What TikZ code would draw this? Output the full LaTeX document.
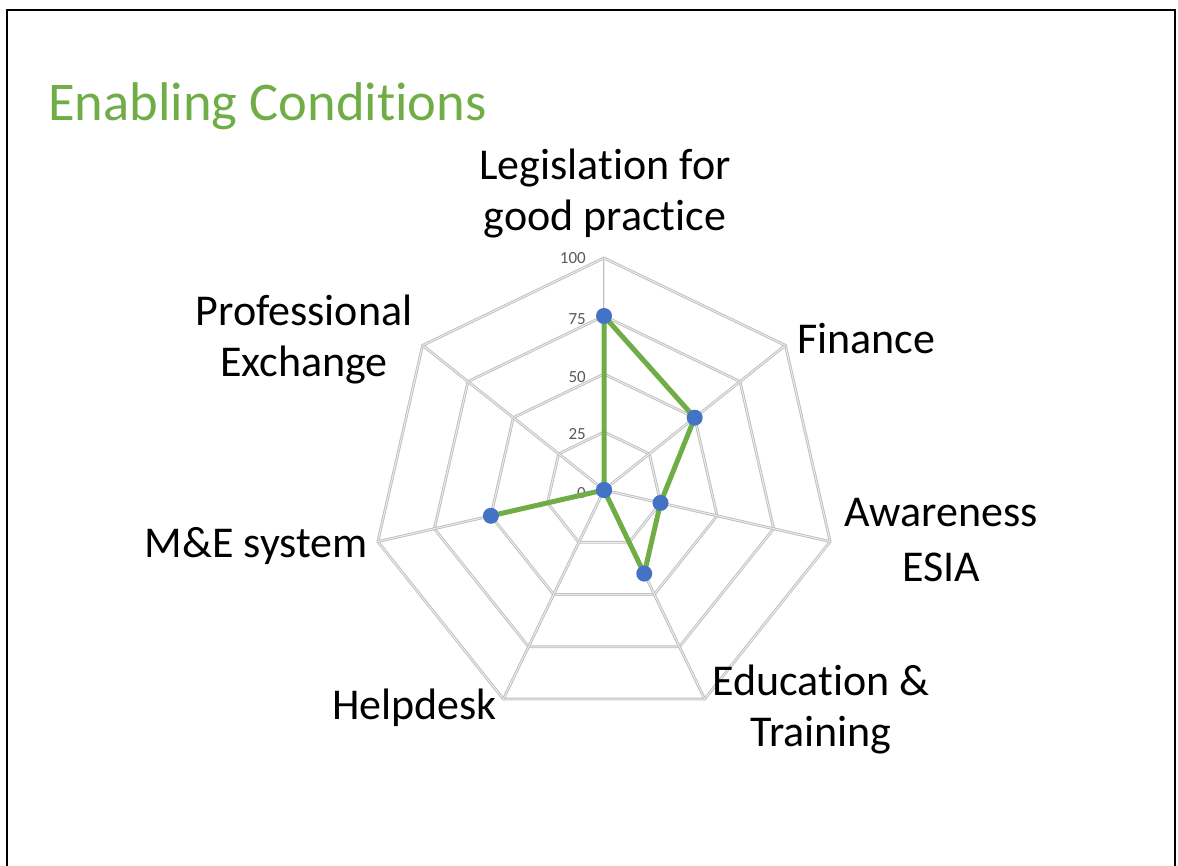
\documentclass[tikz,border=0pt]{standalone}
\usepackage{fontspec}
\setmainfont{Carlito}[Ligatures=NoCommon]
\usepackage{tikz, xcolor}
\definecolor{chartgreen}{HTML}{70AD47}
\definecolor{chartblue}{HTML}{4472C4}
\definecolor{ticktext}{HTML}{595959}
\newcommand{\pctunit}{2.32}

\begin{document}
\begin{tikzpicture}[x=1pt,y=1pt]
\useasboundingbox (0,0) rectangle (1178,865);
\draw[line width=2pt] (7,-20) -- (7,855) -- (1175,855) -- (1175,-20);

\tikzstyle{gridline}=[draw=gray!50,
			double=gray!15,
			double distance=1pt,
			line width=0.9pt,
			line join=round
			]
\tikzstyle{axislabel}=[font=\fontsize{44}{51}\selectfont, align=center, inner sep=0pt]
\tikzstyle{ticklabel}=[font=\fontsize{17}{20}\selectfont, text=ticktext, anchor=east, inner sep=0pt]
\tikzstyle{datadot}=[circle, fill=chartblue, minimum size=16pt, inner sep=0pt]

\node[font=\fontsize{54.5}{64}\selectfont, text=chartgreen, anchor=base west, inner sep=0pt] (title) at (48,744) {Enabling Conditions};

\begin{scope}[shift={(604,375)}]
% rings at 25, 50, 75, 100
\draw[gridline] (90:25*\pctunit) -- (38.57:25*\pctunit) -- (-12.86:25*\pctunit) -- (-64.29:25*\pctunit) -- (-115.71:25*\pctunit) -- (-167.14:25*\pctunit) -- (141.43:25*\pctunit) -- cycle;
\draw[gridline] (90:50*\pctunit) -- (38.57:50*\pctunit) -- (-12.86:50*\pctunit) -- (-64.29:50*\pctunit) -- (-115.71:50*\pctunit) -- (-167.14:50*\pctunit) -- (141.43:50*\pctunit) -- cycle;
\draw[gridline] (90:75*\pctunit) -- (38.57:75*\pctunit) -- (-12.86:75*\pctunit) -- (-64.29:75*\pctunit) -- (-115.71:75*\pctunit) -- (-167.14:75*\pctunit) -- (141.43:75*\pctunit) -- cycle;
\draw[gridline] (90:100*\pctunit) -- (38.57:100*\pctunit) -- (-12.86:100*\pctunit) -- (-64.29:100*\pctunit) -- (-115.71:100*\pctunit) -- (-167.14:100*\pctunit) -- (141.43:100*\pctunit) -- cycle;

% spokes
\coordinate (ctr) at (0,0);
\draw[gridline] (ctr) -- (90:100*\pctunit);
\draw[gridline] (ctr) -- (38.57:100*\pctunit);
\draw[gridline] (ctr) -- (-12.86:100*\pctunit);
\draw[gridline] (ctr) -- (-64.29:100*\pctunit);
\draw[gridline] (ctr) -- (-115.71:100*\pctunit);
\draw[gridline] (ctr) -- (-167.14:100*\pctunit);
\draw[gridline] (ctr) -- (141.43:100*\pctunit);

\node[ticklabel] (t100) at (-18,100*\pctunit) {100};
\node[ticklabel] (t75) at (-18,75*\pctunit-3) {75};
\node[ticklabel] (t50) at (-18,50*\pctunit-3) {50};
\node[ticklabel] (t25) at (-18,25*\pctunit-2) {25};
\node[ticklabel] (t0) at (-18,-3) {0};

% data
\coordinate (leg) at (90:75*\pctunit);
\coordinate (fin) at (38.57:50*\pctunit);
\coordinate (awa) at (-12.86:25*\pctunit);
\coordinate (edu) at (-64.29:40*\pctunit);
\coordinate (hel) at (-115.71:0);
\coordinate (mne) at (-167.14:50*\pctunit);
\coordinate (pro) at (141.43:0);
\end{scope}

\draw[chartgreen, line width=5pt, line join=round] (leg) -- (fin) -- (awa) -- (edu) -- (hel) -- (mne) -- (pro) -- cycle;

\node[datadot] (legdot) at (leg) {};
\node[datadot] (findot) at (fin) {};
\node[datadot] (awadot) at (awa) {};
\node[datadot] (edudot) at (edu) {};
\node[datadot] (heldot) at (hel) {};
\node[datadot] (mnedot) at (mne) {};
\node[datadot] (prodot) at (pro) {};

% two-line labels: base is the last line
\node[axislabel, anchor=base] (leglabel) at (605,634) {Legislation for\\good practice};
\node[axislabel, anchor=base] (prolabel) at (304,488) {Professional\\Exchange};
\node[axislabel, anchor=base west] (finlabel) at (797,511) {Finance};
\node[axislabel, anchor=base] (awalabel) at (941,283) {Awareness\\[4pt]ESIA};
\node[axislabel, anchor=base] (edulabel) at (821,118) {Education \&\\Training};
\node[axislabel, anchor=base east] (hellabel) at (497,145) {Helpdesk};
\node[axislabel, anchor=base east] (mnelabel) at (368,307) {M\&E system};

\end{tikzpicture}
\end{document}
